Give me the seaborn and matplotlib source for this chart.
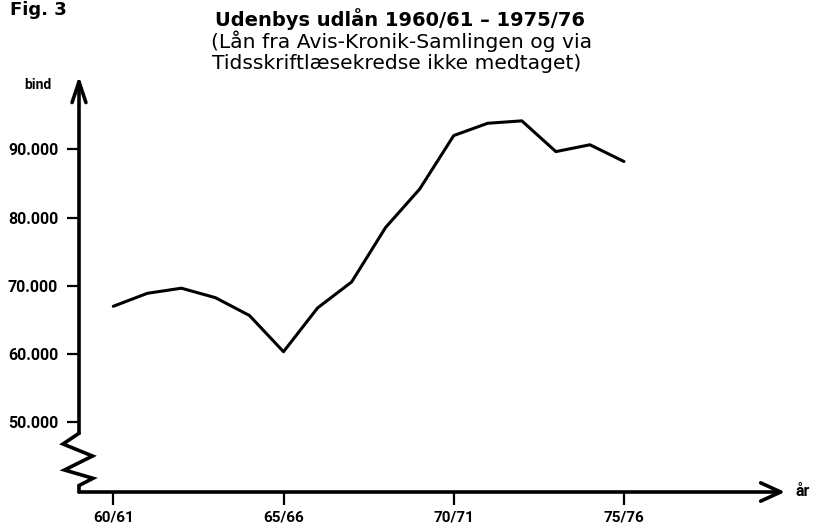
import matplotlib
matplotlib.use("Agg")
import matplotlib.pyplot as plt
import seaborn as sns
import pandas as pd

# Lending seasons 1960/61 - 1975/76 and volumes lent (bind)
seasons = ["60/61", "61/62", "62/63", "63/64", "64/65", "65/66", "66/67", "67/68",
           "68/69", "69/70", "70/71", "71/72", "72/73", "73/74", "74/75", "75/76"]
volumes = [67000, 68900, 69650, 68260, 65650, 60350, 66760, 70560,
           78550, 84170, 92000, 93800, 94150, 89650, 90650, 88200]

tick_seasons = ["60/61", "65/66", "70/71", "75/76"]
y_ticks = [50000, 60000, 70000, 80000, 90000]
y_ticklabels = ["50.000", "60.000", "70.000", "80.000", "90.000"]

sns.set_theme(style="white")
plt.rcParams["font.family"] = ["Roboto", "DejaVu Sans"]
plt.rcParams["text.color"] = "black"
plt.rcParams["xtick.color"] = "black"
plt.rcParams["ytick.color"] = "black"

df = pd.DataFrame({"idx": range(len(seasons)), "season": seasons, "bind": volumes})

W, H = 813, 529
fig = plt.figure(figsize=(W / 100, H / 100), dpi=100)
ax = fig.add_axes([79 / W, (H - 492) / H, (785 - 79) / W, (492 - 76) / H])

sns.lineplot(data=df, x="idx", y="bind", color="black", linewidth=2.2, ax=ax)

ax.set_xlim(-1.007, 19.73)
ax.set_ylim(39810, 100718)

for s in ax.spines.values():
    s.set_visible(False)

ax.set_xticks([seasons.index(s) for s in tick_seasons])
ax.set_xticklabels(tick_seasons, fontsize=11, fontweight="bold")
ax.set_yticks(y_ticks)
ax.set_yticklabels(y_ticklabels, fontsize=11.5, fontweight="bold")
ax.tick_params(axis="y", direction="out", length=9, width=1.6, pad=6,
               left=True, colors="black")
ax.tick_params(axis="x", direction="out", length=9.5, width=1.6, pad=4,
               bottom=True, colors="black")
ax.set_xlabel("")
ax.set_ylabel("")

# Axes drawn as arrows
ax.annotate("", xy=(1, 0), xytext=(0, 0), xycoords="axes fraction",
            arrowprops=dict(arrowstyle="->,head_length=0.72,head_width=0.33",
                            mutation_scale=20, lw=2.6, color="black",
                            shrinkA=0, shrinkB=0))
ax.annotate("", xy=(0, 1), xytext=(0, 0.1411), xycoords="axes fraction",
            arrowprops=dict(arrowstyle="->,head_length=0.75,head_width=0.25",
                            mutation_scale=20, lw=2.6, color="black",
                            shrinkA=0, shrinkB=0))

# Axis break zigzag at the bottom of the value axis
zx = [0, -0.0227, 0.0191, -0.0205, 0.0198, 0, 0]
zy = [0.1411, 0.1154, 0.0865, 0.0529, 0.0329, 0.0156, 0]
ax.plot(zx, zy, transform=ax.transAxes, color="black", lw=2.6, clip_on=False,
        solid_joinstyle="miter")

# Texts
wide = ["DejaVu Sans"]
fig.text(10 / W, 1 - 15 / H, "Fig. 3", fontsize=13, fontweight="bold", family=wide,
         va="baseline", ha="left")
fig.text(400 / W, 1 - 26 / H, "Udenbys udlån 1960/61 – 1975/76", fontsize=14,
         fontweight="bold", family=wide, ha="center", va="baseline")
fig.text(402 / W, 1 - 48 / H, "(Lån fra Avis-Kronik-Samlingen og via", fontsize=14.6,
         family=wide, ha="center", va="baseline")
fig.text(397 / W, 1 - 69 / H, "Tidsskriftlæsekredse ikke medtaget)", fontsize=14.6,
         family=wide, ha="center", va="baseline")
fig.text(38 / W, 1 - 85 / H, "bind", fontsize=10, fontweight="bold", ha="center", va="center")
fig.text(795 / W, 1 - 491 / H, "år", fontsize=11.5, fontweight="bold", ha="left", va="center")

fig.savefig("out.png", dpi=100)
